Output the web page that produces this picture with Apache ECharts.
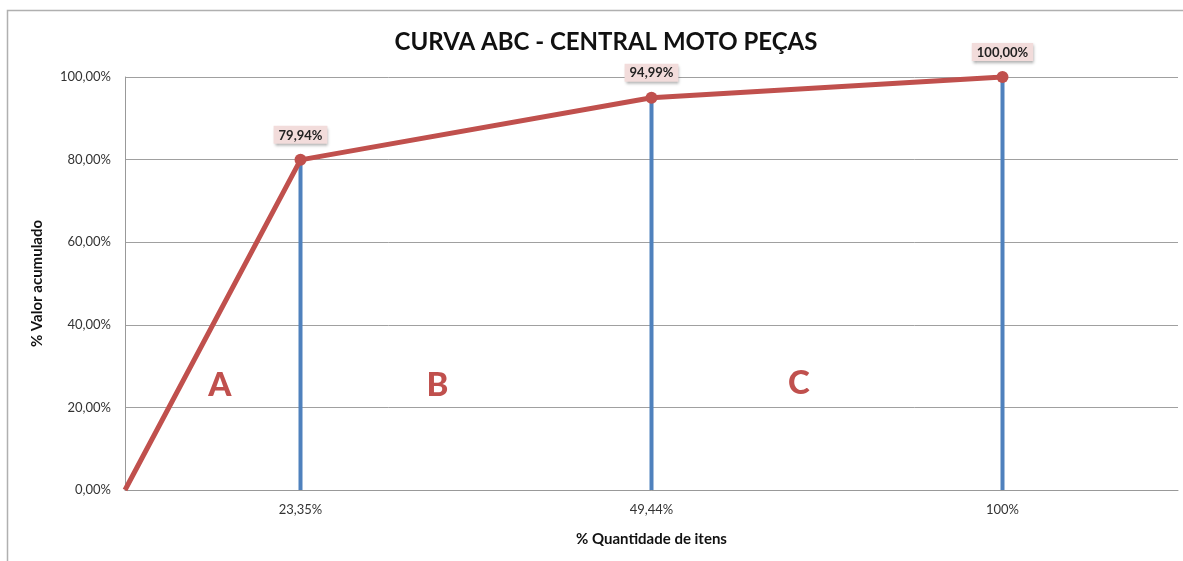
<!DOCTYPE html>
<html>
<head>
<meta charset="utf-8">
<script src="https://cdn.jsdelivr.net/npm/echarts@6/dist/echarts.min.js"></script>
<style>
  html, body { margin: 0; padding: 0; background: #fff; }
  #chart { width: 1183px; height: 561px; }
</style>
</head>
<body>
<div id="chart"></div>
<script>
// x positions are slots on the horizontal axis (0..6), labelled only where Excel had a category
const xTickLabels = ["", "23,35%", "", "49,44%", "", "100%", ""];
const curveX = [0, 1, 3, 5];
const curveValues = [0, 79.94, 94.99, 100];
const dropX = [1, 3, 5];
const dropValues = [79.94, 94.99, 100];
const zoneLetters = ["A", "B", "C"];
const zoneX = [0.54, 1.78, 3.84];
const zoneY = [25.4, 25.4, 25.9];

const FONT = "Lato";
const fmtPct = (v) => v.toFixed(2).replace(".", ",") + "%";

const chartDom = document.getElementById("chart");
const chart = echarts.init(chartDom);

const option = {
  animation: false,
  textStyle: { fontFamily: FONT },
  title: {
    text: "CURVA ABC - CENTRAL MOTO PEÇAS",
    left: 601,
    top: 25,
    textAlign: "center",
    textStyle: { fontFamily: FONT, fontSize: 24, fontWeight: "bold", color: "#111" },
  },
  graphic: [
    {
      type: "rect",
      shape: { x: 7.5, y: 10.5, width: 1200, height: 600 },
      style: { fill: "none", stroke: "#b0b0b0", lineWidth: 1.5 },
      silent: true,
      z: -1,
    },
  ],
  grid: { left: 125, right: 5, top: 77, bottom: 71 },
  xAxis: {
    type: "value",
    min: 0,
    max: 6,
    interval: 1,
    name: "% Quantidade de itens",
    nameLocation: "middle",
    nameGap: 42,
    nameTextStyle: { fontFamily: FONT, fontSize: 15, fontWeight: "bold", color: "#111" },
    axisLine: { show: true, lineStyle: { color: "#999" } },
    axisTick: { show: false },
    splitLine: { show: false },
    axisLabel: {
      margin: 13,
      color: "#333",
      fontSize: 13,
      fontFamily: FONT,
      formatter: (v) => xTickLabels[Math.round(v)] || "",
    },
  },
  yAxis: {
    type: "value",
    min: 0,
    max: 100,
    interval: 20,
    name: "% Valor acumulado",
    nameLocation: "middle",
    nameGap: 80,
    nameTextStyle: { fontFamily: FONT, fontSize: 15, fontWeight: "bold", color: "#111" },
    axisLine: { show: true, lineStyle: { color: "#999" } },
    axisTick: { show: false },
    splitLine: { show: true, lineStyle: { color: "#a0a0a0", width: 1 } },
    axisLabel: {
      margin: 14,
      color: "#333",
      fontSize: 13,
      fontFamily: FONT,
      formatter: fmtPct,
    },
  },
  series: [
    {
      type: "bar",
      data: dropX.map((x, i) => [x, dropValues[i]]),
      barWidth: 4,
      itemStyle: { color: "#4f81bd" },
      z: 2,
    },
    {
      type: "line",
      data: curveX.map((x, i) => ({
        value: [x, curveValues[i]],
        symbolSize: i === 0 ? 0 : 12,
        label: { show: i !== 0 },
      })),
      symbol: "circle",
      lineStyle: { color: "#c0504d", width: 5 },
      itemStyle: { color: "#c0504d" },
      label: {
        position: "top",
        distance: 10,
        formatter: (p) => fmtPct(p.value[1]),
        fontFamily: FONT,
        fontSize: 13,
        fontWeight: "bold",
        color: "#222",
        backgroundColor: "#f2dcdb",
        padding: [3, 5, 2, 5],
        shadowColor: "rgba(0,0,0,0.35)",
        shadowBlur: 3,
        shadowOffsetX: 1,
        shadowOffsetY: 2,
      },
      z: 3,
    },
    {
      type: "scatter",
      data: zoneLetters.map((l, i) => [zoneX[i], zoneY[i], l]),
      symbolSize: 0,
      itemStyle: { opacity: 1 },
      label: {
        show: true,
        position: "inside",
        formatter: (p) => p.value[2],
        fontFamily: FONT,
        fontSize: 33,
        fontWeight: 900,
        color: "#c0504d",
        opacity: 1,
      },
      z: 4,
    },
  ],
};

chart.setOption(option);
</script>
</body>
</html>
